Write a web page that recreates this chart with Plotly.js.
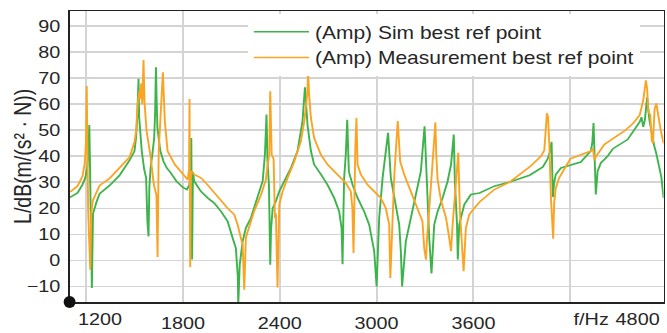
<!DOCTYPE html>
<html><head><meta charset="utf-8">
<script src="https://cdn.plot.ly/plotly-3.0.1.min.js"></script>
<style>
html,body{margin:0;padding:0;background:#fff;overflow:hidden;}
#wrap{width:667px;height:333px;overflow:hidden;}
#chart{width:556px;height:333px;transform:scaleX(1.2);transform-origin:0 0;}
</style></head><body><div id="wrap"><div id="chart"></div></div>
<script>
// Frequency axis ticks
const tickFreqs = [1200, 1800, 2400, 3000, 3600, 4200];
const tickLabels = ["", "1800", "2400", "3000", "3600", ""];
const levelTicks = [-10, 0, 10, 20, 30, 40, 50, 60, 70, 80, 90];
const yTitle = "L/dB(m/(s² · N))";

// (Amp) Sim best ref point
const simFreq = [1098,1106,1147,1178,1195,1208,1214,1220,1224,1228,1236,1243,1251,1265,1284,1346,1408,1470,1500,1510,1517,1521,1525,1529,1534,1545,1560,1572,1580,1587,1592,1600,1613,1622,1628,1633,1637,1642,1660,1680,1700,1720,1760,1800,1825,1840,1848,1852,1857,1862,1870,1911,1953,1994,2036,2077,2108,2128,2135,2140,2143,2147,2152,2170,2190,2221,2263,2294,2308,2312,2318,2324,2333,2341,2346,2356,2376,2397,2428,2469,2510,2541,2556,2562,2572,2593,2613,2655,2696,2737,2768,2783,2789,2795,2799,2809,2818,2828,2851,2882,2923,2954,2985,3000,3016,3037,3057,3071,3088,3109,3140,3150,3158,3181,3212,3243,3274,3297,3305,3316,3326,3340,3357,3378,3409,3440,3461,3478,3485,3498,3503,3512,3523,3543,3584,3638,3729,3824,3948,4030,4060,4075,4084,4088,4092,4100,4110,4142,4200,4265,4327,4336,4344,4358,4369,4389,4431,4464,4555,4588,4630,4641,4652,4662,4676,4690,4705,4720,4733,4750,4764,4778];
const simLevel = [24.2,24.4,25.9,29.1,31.7,36,40,52,38,20,-10.6,18,20,22.5,25.6,28.8,32.7,38.5,42,47.4,55,62,69.8,55,49.6,42,35,31.7,15,9.2,28,35.5,42,47,57,74.2,62,51,42,38,35.5,34,30.4,28,27.2,29,34,47,0.3,34,30.4,26.5,24,22,18.8,15,8.6,4.7,-1.7,-6,-17,-6,-1.7,7.3,12.4,16.3,24,30.4,40.6,45,56,38,29,-1.7,12,20,22.7,26.5,30.4,35.5,42,53.5,66.5,60,52,42,36.8,33,29,24,18.8,12.4,-1.5,20,31.7,40.6,54,34.2,29,24,18.8,13.7,3.5,-10,16.3,31.7,42,49,31.7,24,13.7,3.5,-10,7.3,16.3,24,34.2,51.5,38,24.6,8.6,-5,13.7,18.8,24,30.4,36.8,48.3,30,14,0.3,13.7,16.3,21.4,25.3,25.9,28.5,30.1,32.7,35.9,39,42,45.5,35,24.3,30,33,35.5,36.5,37.8,42,45,52.8,25.3,34.2,37.4,40,42.9,46.4,49.4,53.2,55,51.3,54,62.6,54,48,44,41,36,32,24];

// (Amp) Measurement best ref point
const measFreq = [1098,1106,1147,1178,1192,1199,1204,1208,1213,1226,1232,1242,1284,1346,1408,1470,1500,1510,1520,1530,1536,1542,1548,1556,1562,1575,1598,1620,1636,1643,1650,1662,1676,1688,1705,1750,1800,1830,1838,1841,1845,1850,1870,1911,1953,1994,2036,2077,2118,2139,2159,2170,2180,2190,2201,2221,2242,2283,2314,2325,2335,2341,2350,2362,2370,2376,2386,2397,2418,2449,2490,2531,2552,2570,2576,2582,2593,2613,2655,2696,2737,2779,2809,2840,2850,2857,2862,2868,2875,2882,2902,2944,2985,3026,3057,3078,3085,3099,3109,3119,3131,3146,3171,3212,3253,3284,3295,3306,3312,3320,3332,3345,3355,3364,3370,3378,3399,3430,3450,3461,3471,3490,3506,3516,3539,3553,3574,3605,3638,3729,3824,3948,4018,4039,4055,4062,4070,4080,4094,4100,4110,4131,4200,4258,4327,4340,4350,4360,4410,4464,4534,4588,4630,4652,4668,4676,4683,4695,4705,4712,4722,4733,4745,4760,4778];
const measLevel = [26.3,26.5,28.5,32.3,37.4,45,67,45,19,-3.6,18,23,28.8,31.5,35.4,39.7,45.5,49.6,60,65,62,68,60,77,61,49.6,40.6,29,25,1.3,42,53.5,72.3,53.5,42,36.8,33,31,35,62,-2.6,34.2,33,31.7,29,26,23.3,20,17.6,13.7,8.6,6,-11.3,8.6,11,15,19,25,31,36.8,40.6,65,40.6,39,16.3,18,-10.4,21.4,26.5,31.7,38,45.8,53.5,63.7,72,63.7,54.7,47,40.6,36.8,34.2,31.7,29.7,26.5,20,2.8,39.4,43,54.7,36.8,33,29,26.5,24,20,13.7,-6.8,18.8,31.7,42,53.5,38,33,26.5,20,15,4.7,0.3,8,16,26,36,45,53,40,31,23,16.3,8.6,3.5,13.7,27.8,41.3,18.8,-4.2,12.4,17.6,20,22.4,27.2,30.1,35.9,40,42.3,56.5,55,44.5,24,8.3,22,27.8,31.7,39,40.4,42,43,38.5,40,44.5,46.8,49.6,52.6,55.8,61.5,69.2,66,57,56,46,45,58,60.3,55,50,45];

const FONT = "Liberation Sans, Arial, sans-serif";
const TXT = "#262626";

const traces = [
  {x: simFreq, y: simLevel, type: "scatter", mode: "lines", name: "(Amp) Sim best ref point",
   line: {color: "#3cb44a", width: 1.6}},
  {x: measFreq, y: measLevel, type: "scatter", mode: "lines", name: "(Amp) Measurement best ref point",
   line: {color: "#fba424", width: 1.6}}
];

const axisCommon = {
  showgrid: true, gridcolor: "#d4d4d4", gridwidth: 1.6,
  showline: true, linecolor: "#222", linewidth: 1.5, mirror: true,
  zeroline: false, ticks: "", tickfont: {family: FONT, size: 16.5, color: TXT}
};

const layout = {
  width: 556, height: 333,
  margin: {l: 58, r: 3, t: 11, b: 31},
  paper_bgcolor: "#fff", plot_bgcolor: "#fff",
  showlegend: true,
  legend: {x: 0.3, y: 0.99, xanchor: "left", yanchor: "top", bgcolor: "#fff", borderwidth: 0,
           font: {family: FONT, size: 17.5, color: TXT}, itemwidth: 46},
  xaxis: Object.assign({}, axisCommon, {range: [1098, 4778], tickmode: "array",
           tickvals: tickFreqs, ticktext: tickLabels, ticklabelstandoff: 6}),
  yaxis: Object.assign({}, axisCommon, {range: [-16, 95.8], tickmode: "array",
           tickvals: levelTicks, ticklabelstandoff: 3}),
  annotations: [
    {x: 0, xref: "paper", y: 0.5, yref: "paper", text: yTitle, textangle: -90, showarrow: false,
     xanchor: "center", yanchor: "middle", xshift: -39.5, font: {family: FONT, size: 19.5, color: TXT}},
    {x: 1200, xref: "x", y: 0, yref: "paper", text: "1200", showarrow: false, xanchor: "center",
     yanchor: "top", xshift: 12, yshift: -6, font: {family: FONT, size: 16.5, color: TXT}},
    {x: 4329, xref: "x", y: 0, yref: "paper", text: "f/Hz", showarrow: false, xanchor: "center",
     yanchor: "top", yshift: -6, font: {family: FONT, size: 16.5, color: TXT}},
    {x: 1, xref: "paper", y: 0, yref: "paper", text: "4800", showarrow: false, xanchor: "right",
     yanchor: "top", xshift: -1, yshift: -6, font: {family: FONT, size: 16.5, color: TXT}}
  ],
  shapes: [
    {type: "circle", xref: "paper", yref: "paper", xsizemode: "pixel", ysizemode: "pixel",
     xanchor: 0, yanchor: 0, x0: -5, x1: 5, y0: -6, y1: 6,
     fillcolor: "#111", line: {width: 0}, layer: "above"}
  ]
};

Plotly.newPlot("chart", traces, layout, {staticPlot: true, displayModeBar: false});
</script></body></html>
